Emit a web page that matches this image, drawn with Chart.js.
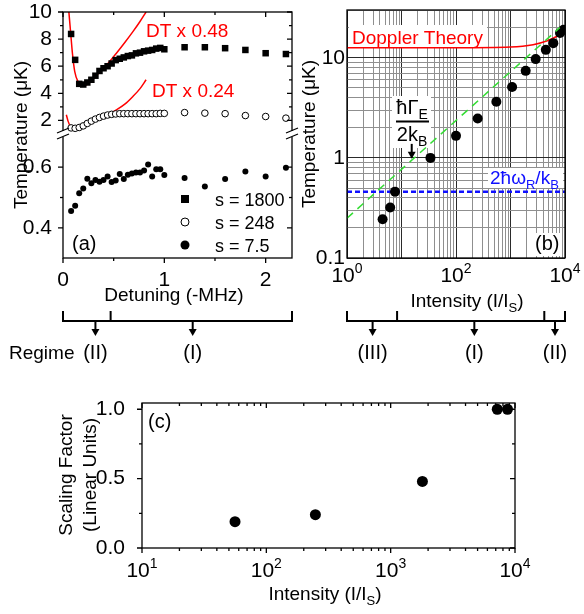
<!DOCTYPE html>
<html>
<head>
<meta charset="utf-8">
<script src="https://cdn.jsdelivr.net/npm/chart.js"></script>
<style>
  html, body { margin: 0; padding: 0; background: #fff; }
  #wrap { position: relative; width: 584px; height: 614px; overflow: hidden; }
  canvas { position: absolute; }
</style>
</head>
<body>
<div id="wrap">
  <canvas id="chartA" width="300" height="380" style="left:0;top:0"></canvas>
  <canvas id="chartB" width="300" height="380" style="left:284px;top:0"></canvas>
  <canvas id="chartC" width="584" height="234" style="left:0;top:380px"></canvas>
</div>
<script>
// ---- (a) temperature vs detuning ----
var detuning = [0.08, 0.12, 0.16, 0.20, 0.24, 0.28, 0.32, 0.36, 0.40, 0.44, 0.48, 0.52,
                0.56, 0.60, 0.64, 0.68, 0.72, 0.76, 0.80, 0.84, 0.88, 0.92, 0.96, 1.00,
                1.2, 1.4, 1.6, 1.8, 2.0, 2.2];
var temp1800 = [8.38, 6.47, 4.7, 4.65, 4.8, 5.0, 5.3, 5.65, 5.85, 6.0, 6.2, 6.45,
                6.55, 6.65, 6.75, 6.8, 6.95, 7.0, 7.1, 7.15, 7.2, 7.3, 7.35, 7.25,
                7.4, 7.4, 7.33, 7.2, 6.96, 6.9];
var temp248 = [1.45, 1.42, 1.48, 1.6, 1.78, 1.95, 2.1, 2.22, 2.32, 2.4, 2.45, 2.48,
               2.5, 2.5, 2.5, 2.5, 2.5, 2.5, 2.5, 2.5, 2.5, 2.5, 2.52, 2.52,
               2.58, 2.54, 2.5, 2.36, 2.29, 2.17];
var temp7p5 = [0.456, 0.473, 0.514, 0.53, 0.562, 0.547, 0.558, 0.552, 0.558, 0.569, 0.551, 0.556,
               0.577, 0.561, 0.575, 0.579, 0.582, 0.582, 0.589, 0.609, 0.569, 0.593, 0.593, 0.574,
               0.564, 0.536, 0.561, 0.586, 0.569, 0.598];
var dt048X = [0.058, 0.076, 0.093, 0.116, 0.148, 0.198, 0.25, 0.3, 0.363, 0.45, 0.527, 0.61, 0.69, 0.76, 0.82];
var dt048Y = [10, 8.43, 6.96, 5.6, 4.87, 4.55, 4.7, 5.05, 5.6, 6.25, 6.96, 7.75, 8.55, 9.3, 10];
var dt024X = [0.033, 0.05, 0.07, 0.09, 0.12, 0.16, 0.22, 0.33, 0.45, 0.527, 0.61, 0.69, 0.76, 0.82];
var dt024Y = [2.42, 1.95, 1.6, 1.42, 1.36, 1.4, 1.6, 2.0, 2.45, 2.78, 3.2, 3.77, 4.35, 5.0];
var detuneTicks = [0, 1, 2];
var detuneMinor = [0.5, 1.5];
var tempTicksHi = [2, 4, 6, 8, 10];
var tempMinorHi = [3, 5, 7, 9];
var tempTicksLo = [0.4, 0.6];
var tempMinorLo = [0.5];
var regimeEdgesA = [0.47];
var regimeArrowsA = [0.32, 1.28];
var regimeNamesA = ['(II)', '(I)'];

// ---- (b) temperature vs intensity ----
var intensityB = [4.5, 6.2, 7.6, 34, 100, 250, 550, 1070, 1900, 2900, 4450, 6100, 8100, 9400];
var tempB = [0.244, 0.32, 0.46, 1.0, 1.66, 2.47, 3.63, 5.1, 7.4, 9.7, 12, 14, 17.7, 19];
var dopplerX = [1, 10, 100, 1000, 2600, 4600, 7000, 10000];
var dopplerY = [12.6, 12.6, 12.6, 12.8, 13.5, 14.7, 16.3, 18.5];
var fitX = [1, 8000];
var fitY = [0.25, 20];
var recoilX = [1, 10000];
var recoilY = [0.46, 0.46];
var tempLabelsB = [0.1, 1, 10];
var decadesB = [1, 100, 10000];
var regimeEdgesB = [8.3, 4170];
var regimeArrowsB = [2.95, 217, 6560];
var regimeNamesB = ['(III)', '(I)', '(II)'];

// ---- (c) scaling factor ----
var intensityC = [56, 248, 1800, 7200, 8700];
var factorC = [0.19, 0.24, 0.48, 1.0, 1.0];
var factorTicks = [0, 0.5, 1.0];
var factorMinor = [0.25, 0.75];
var decadesC = [10, 100, 1000, 10000];

var FONT = "'Liberation Sans', Arial, Helvetica, sans-serif";

function pts(xs, ys) {
  return xs.map(function (x, i) { return { x: x, y: ys[i] }; });
}
function logTicks(e0, e1, max) {
  var out = [];
  for (var e = e0; e <= e1; e++) {
    for (var m = 1; m <= 9; m++) {
      var v = +(m * Math.pow(10, e)).toPrecision(3);
      if (v <= max) out.push(v);
    }
  }
  return out;
}
function isDecade(v) {
  var l = Math.log10(v);
  return Math.abs(l - Math.round(l)) < 1e-6;
}
function setTicks(vals) {
  return function (s) { s.ticks = vals.map(function (v) { return { value: v }; }); };
}
function fixed(size, horizontal) {
  return function (s) {
    if (horizontal) s.height = size; else s.width = size;
    s.paddingTop = s.paddingBottom = s.paddingLeft = s.paddingRight = 0;
  };
}

// text with sub/superscripts: parts = [[text, 0 normal | 1 sub | 2 sup], ...]
function rich(ctx, parts, x, y, size, align, color) {
  ctx.save();
  ctx.fillStyle = color || '#000';
  ctx.textAlign = 'left';
  ctx.textBaseline = 'alphabetic';
  var w = 0;
  function fs(p) { return p[1] ? Math.round(size * 0.68) : size; }
  parts.forEach(function (p) { ctx.font = fs(p) + 'px ' + FONT; w += ctx.measureText(p[0]).width; });
  var cx = align === 'center' ? x - w / 2 : (align === 'right' ? x - w : x);
  parts.forEach(function (p) {
    ctx.font = fs(p) + 'px ' + FONT;
    var dy = p[1] === 1 ? size * 0.26 : (p[1] === 2 ? -size * 0.42 : 0);
    ctx.fillText(p[0], cx, y + dy);
    cx += ctx.measureText(p[0]).width;
  });
  ctx.restore();
  return w;
}
function vtext(ctx, str, x, y, size) {
  ctx.save();
  ctx.translate(x, y);
  ctx.rotate(-Math.PI / 2);
  ctx.font = size + 'px ' + FONT;
  ctx.fillStyle = '#000';
  ctx.textAlign = 'center';
  ctx.textBaseline = 'middle';
  ctx.fillText(str, 0, 0);
  ctx.restore();
}
function tickMarks(ctx, scale, vals, len, side, a) {
  ctx.beginPath();
  vals.forEach(function (v) {
    var p = scale.getPixelForValue(v);
    if (side === 'bottom') { ctx.moveTo(p, a.bottom); ctx.lineTo(p, a.bottom + len); }
    if (side === 'top') { ctx.moveTo(p, a.top); ctx.lineTo(p, a.top + len); }
    if (side === 'left') { ctx.moveTo(a.left, p); ctx.lineTo(a.left - len, p); }
    if (side === 'right') { ctx.moveTo(a.right, p); ctx.lineTo(a.right - len, p); }
  });
  ctx.stroke();
}
function regime(ctx, scale, edges, arrows, names) {
  var y = 321;
  var x0 = scale.getPixelForValue(scale.min), x1 = scale.getPixelForValue(scale.max);
  ctx.save();
  ctx.strokeStyle = '#000';
  ctx.fillStyle = '#000';
  ctx.lineWidth = 2;
  ctx.beginPath();
  ctx.moveTo(x0, y - 10); ctx.lineTo(x0, y); ctx.lineTo(x1, y); ctx.lineTo(x1, y - 10);
  edges.forEach(function (v) {
    var p = scale.getPixelForValue(v);
    ctx.moveTo(p, y); ctx.lineTo(p, y - 10);
  });
  ctx.stroke();
  arrows.forEach(function (v, i) {
    var p = scale.getPixelForValue(v);
    ctx.beginPath(); ctx.moveTo(p, y); ctx.lineTo(p, y + 9); ctx.stroke();
    ctx.beginPath(); ctx.moveTo(p - 4, y + 8); ctx.lineTo(p + 4, y + 8); ctx.lineTo(p, y + 15); ctx.closePath(); ctx.fill();
    rich(ctx, [[names[i], 0]], p, 359, 20, 'center');
  });
  ctx.restore();
}
function whiteBox(ctx, x, y, w, h) {
  ctx.save(); ctx.fillStyle = '#fff'; ctx.fillRect(x, y, w, h); ctx.restore();
}

var common = {
  responsive: false,
  animation: false,
  events: [],
  plugins: { legend: { display: false }, tooltip: { enabled: false } }
};
var tickFont = { family: FONT, size: 21 };

// panel (a) decorations
var panelA = {
  id: 'panelA',
  afterDraw: function (chart) {
    var ctx = chart.ctx, a = chart.chartArea, s = chart.scales;
    ctx.save();
    ctx.strokeStyle = '#000';
    ctx.lineWidth = 1.3;
    ctx.strokeRect(a.left, a.top, a.right - a.left, a.bottom - a.top);
    tickMarks(ctx, s.x, detuneTicks, 5, 'bottom', a);
    tickMarks(ctx, s.x, detuneMinor, 3, 'bottom', a);
    tickMarks(ctx, s.x, detuneTicks, 5, 'top', a);
    tickMarks(ctx, s.x, detuneMinor, 3, 'top', a);
    ['left', 'right'].forEach(function (side) {
      tickMarks(ctx, s.yHi, tempTicksHi, 5, side, a);
      tickMarks(ctx, s.yHi, tempMinorHi, 3, side, a);
      tickMarks(ctx, s.yLo, tempTicksLo, 5, side, a);
      tickMarks(ctx, s.yLo, tempMinorLo, 3, side, a);
    });
    // axis break
    var yb = s.yHi.bottom;
    [a.left, a.right].forEach(function (x) {
      ctx.fillStyle = '#fff';
      ctx.fillRect(x - 2, yb - 3, 4, 6);
      ctx.beginPath();
      ctx.moveTo(x - 6, yb - 1); ctx.lineTo(x + 6, yb - 6);
      ctx.moveTo(x - 6, yb + 5); ctx.lineTo(x + 6, yb);
      ctx.stroke();
    });
    ctx.restore();

    vtext(ctx, 'Temperature (\u03BCK)', 22, 135, 19);
    rich(ctx, [['Detuning (-MHz)', 0]], 174, 301, 19, 'center');
    rich(ctx, [['DT x 0.48', 0]], 146, 37, 19, 'left', '#ff0000');
    rich(ctx, [['DT x 0.24', 0]], 152, 97, 19, 'left', '#ff0000');
    rich(ctx, [['(a)', 0]], 72, 250, 20, 'left');

    // legend
    var lx = 185, rows = [199, 222, 245], labels = ['s = 1800', 's = 248', 's = 7.5'];
    ctx.save();
    ctx.fillStyle = '#000';
    ctx.fillRect(lx - 4, rows[0] - 4, 8, 8);
    ctx.beginPath(); ctx.arc(lx, rows[1], 4, 0, 2 * Math.PI);
    ctx.fillStyle = '#fff'; ctx.fill(); ctx.lineWidth = 1; ctx.strokeStyle = '#000'; ctx.stroke();
    ctx.beginPath(); ctx.arc(lx, rows[2], 4.5, 0, 2 * Math.PI);
    ctx.fillStyle = '#000'; ctx.fill();
    ctx.restore();
    labels.forEach(function (t, i) { rich(ctx, [[t, 0]], 215, rows[i] + 6.5, 18, 'left'); });

    regime(ctx, s.x, regimeEdgesA, regimeArrowsA, regimeNamesA);
    rich(ctx, [['Regime', 0]], 9, 359, 19, 'left');
  }
};

new Chart(document.getElementById('chartA'), {
  type: 'scatter',
  data: {
    datasets: [
      { data: pts(detuning, temp1800), yAxisID: 'yHi', pointStyle: 'rect', pointRadius: 4.6,
        backgroundColor: '#000', borderWidth: 0 },
      { data: pts(detuning, temp248), yAxisID: 'yHi', pointStyle: 'circle', pointRadius: 3.3,
        backgroundColor: '#fff', borderColor: '#000', borderWidth: 1 },
      { data: pts(detuning, temp7p5), yAxisID: 'yLo', pointStyle: 'circle', pointRadius: 3,
        backgroundColor: '#000', borderWidth: 0 },
      { data: pts(dt048X, dt048Y), yAxisID: 'yHi', showLine: true, pointRadius: 0,
        borderColor: '#ff0000', borderWidth: 1.5, cubicInterpolationMode: 'monotone' },
      { data: pts(dt024X, dt024Y), yAxisID: 'yHi', showLine: true, pointRadius: 0,
        borderColor: '#ff0000', borderWidth: 1.5, cubicInterpolationMode: 'monotone' }
    ]
  },
  options: Object.assign({}, common, {
    layout: { padding: { left: 0, top: 12, right: 8, bottom: 0 } },
    scales: {
      x: {
        type: 'linear', position: 'bottom', min: 0, max: 2.26,
        afterBuildTicks: setTicks(detuneTicks), afterFit: fixed(122, true),
        grid: { display: false }, border: { display: false },
        ticks: { font: tickFont, color: '#000', padding: 2, maxRotation: 0, autoSkip: false,
                 callback: function (v) { return String(v); } }
      },
      yLo: {
        type: 'linear', position: 'left', stack: 'temp', stackWeight: 124, min: 0.301, max: 0.709,
        afterBuildTicks: setTicks(tempTicksLo), afterFit: fixed(63),
        grid: { display: false }, border: { display: false },
        ticks: { font: tickFont, color: '#000', padding: 3, autoSkip: false,
                 callback: function (v) { return String(v); } }
      },
      yHi: {
        type: 'linear', position: 'left', stack: 'temp', stackWeight: 122, min: 1, max: 10,
        afterBuildTicks: setTicks(tempTicksHi), afterFit: fixed(63),
        grid: { display: false }, border: { display: false },
        ticks: { font: tickFont, color: '#000', padding: 3, autoSkip: false,
                 callback: function (v) { return String(v); } }
      }
    }
  }),
  plugins: [panelA]
});

// panel (b) decorations
var panelB = {
  id: 'panelB',
  beforeDatasetsDraw: function (chart) {
    var ctx = chart.ctx, s = chart.scales, off = 284;
    whiteBox(ctx, 349 - off, 25, 138, 22);
    rich(ctx, [['Doppler Theory', 0]], 352 - off, 44, 19, 'left', '#ff0000');

    whiteBox(ctx, 392 - off, 96, 39, 52);
    rich(ctx, [['\u0127\u0393', 0], ['E', 1]], 412 - off, 114, 20, 'center');
    ctx.save();
    ctx.fillStyle = '#000';
    ctx.fillRect(396 - off, 120.5, 33, 2);
    ctx.restore();
    rich(ctx, [['2k', 0], ['B', 1]], 412 - off, 141, 20, 'center');
    // arrow
    var ax = s.x.getPixelForValue(15.4), ay0 = s.y.getPixelForValue(1.38), ay1 = s.y.getPixelForValue(0.98);
    ctx.save();
    ctx.strokeStyle = '#000'; ctx.fillStyle = '#000'; ctx.lineWidth = 2;
    ctx.beginPath(); ctx.moveTo(ax, ay0); ctx.lineTo(ax, ay1 - 6); ctx.stroke();
    ctx.beginPath(); ctx.moveTo(ax - 4, ay1 - 7); ctx.lineTo(ax + 4, ay1 - 7); ctx.lineTo(ax, ay1); ctx.closePath(); ctx.fill();
    ctx.restore();

    whiteBox(ctx, 488 - off, 168, 75, 20);
    rich(ctx, [['2\u0127\u03C9', 0], ['R', 1], ['/k', 0], ['B', 1]], 490 - off, 184, 19, 'left', '#1010ff');

    whiteBox(ctx, 530 - off, 233, 30, 23);
    rich(ctx, [['(b)', 0]], 535 - off, 250, 20, 'left');
  },
  afterDraw: function (chart) {
    var ctx = chart.ctx, a = chart.chartArea, s = chart.scales;
    ctx.save();
    ctx.strokeStyle = '#000';
    ctx.lineWidth = 1.3;
    ctx.strokeRect(a.left, a.top, a.right - a.left, a.bottom - a.top);
    ctx.restore();
    decadesB.forEach(function (v) {
      rich(ctx, [['10', 0], [String(Math.round(Math.log10(v))), 2]], s.x.getPixelForValue(v), 282, 21, 'center');
    });
    vtext(ctx, 'Temperature (\u03BCK)', 310 - 284, 134, 19);
    rich(ctx, [['Intensity (I/I', 0], ['S', 1], [')', 0]], 467 - 284, 307, 19, 'center');
    regime(ctx, s.x, regimeEdgesB, regimeArrowsB, regimeNamesB);
  }
};

var gridB = {
  drawTicks: false,
  lineWidth: 1,
  color: function (c) { return c.tick && isDecade(c.tick.value) ? '#2a2a2a' : '#8f8f8f'; }
};

new Chart(document.getElementById('chartB'), {
  type: 'scatter',
  data: {
    datasets: [
      { data: pts(fitX, fitY), showLine: true, pointRadius: 0, borderColor: '#33dd33',
        borderWidth: 1.5, borderDash: [8, 6] },
      { data: pts(intensityB, tempB), pointStyle: 'circle', pointRadius: 5,
        backgroundColor: '#000', borderWidth: 0 },
      { data: pts(dopplerX, dopplerY), showLine: true, pointRadius: 0, borderColor: '#ff0000',
        borderWidth: 1.5, cubicInterpolationMode: 'monotone' },
      { data: pts(recoilX, recoilY), showLine: true, pointRadius: 0, borderColor: '#1010ff',
        borderWidth: 2.5, borderDash: [5, 3] }
    ]
  },
  options: Object.assign({}, common, {
    layout: { padding: { left: 0, top: 10, right: 19, bottom: 0 } },
    scales: {
      x: {
        type: 'logarithmic', position: 'bottom', min: 1, max: 10000,
        afterBuildTicks: setTicks(logTicks(0, 4, 10000)), afterFit: fixed(122, true),
        grid: gridB, border: { display: false },
        ticks: { display: false, autoSkip: false }
      },
      y: {
        type: 'logarithmic', position: 'left', min: 0.1, max: 30,
        afterBuildTicks: setTicks(logTicks(-1, 1, 30)), afterFit: fixed(63),
        grid: gridB, border: { display: false },
        ticks: { font: tickFont, color: '#000', padding: 2, autoSkip: false,
                 callback: function (v) { return tempLabelsB.indexOf(v) >= 0 ? String(v) : ''; } }
      }
    }
  }),
  plugins: [panelB]
});

// panel (c) decorations
var panelC = {
  id: 'panelC',
  afterDraw: function (chart) {
    var ctx = chart.ctx, a = chart.chartArea, s = chart.scales;
    var minorX = logTicks(1, 3, 10000).filter(function (v) { return !isDecade(v); });
    ctx.save();
    ctx.strokeStyle = '#000';
    ctx.lineWidth = 1.3;
    ctx.strokeRect(a.left, a.top, a.right - a.left, a.bottom - a.top);
    tickMarks(ctx, s.x, decadesC, 5, 'bottom', a);
    tickMarks(ctx, s.x, minorX, 3, 'bottom', a);
    tickMarks(ctx, s.x, decadesC, 5, 'top', a);
    tickMarks(ctx, s.x, minorX, 3, 'top', a);
    ['left', 'right'].forEach(function (side) {
      tickMarks(ctx, s.y, factorTicks, 5, side, a);
      tickMarks(ctx, s.y, factorMinor, 3, side, a);
    });
    ctx.restore();
    decadesC.forEach(function (v) {
      rich(ctx, [['10', 0], [String(Math.round(Math.log10(v))), 2]], s.x.getPixelForValue(v), 196.5, 21, 'center');
    });
    vtext(ctx, 'Scaling Factor', 67, 95, 19);
    vtext(ctx, '(Linear Units)', 91, 95, 19);
    rich(ctx, [['Intensity (I/I', 0], ['S', 1], [')', 0]], 325, 220, 19, 'center');
    rich(ctx, [['(c)', 0]], 148, 48, 20, 'left');
  }
};

new Chart(document.getElementById('chartC'), {
  type: 'scatter',
  data: {
    datasets: [
      { data: pts(intensityC, factorC), pointStyle: 'circle', pointRadius: 5.5,
        backgroundColor: '#000', borderWidth: 0 }
    ]
  },
  options: Object.assign({}, common, {
    layout: { padding: { left: 0, top: 23, right: 69, bottom: 0 } },
    scales: {
      x: {
        type: 'logarithmic', position: 'bottom', min: 10, max: 10000,
        afterBuildTicks: setTicks(decadesC), afterFit: fixed(66, true),
        grid: { display: false }, border: { display: false },
        ticks: { display: false }
      },
      y: {
        type: 'linear', position: 'left', min: 0, max: 1.045,
        afterBuildTicks: setTicks(factorTicks), afterFit: fixed(142),
        grid: { display: false }, border: { display: false },
        ticks: { font: tickFont, color: '#000', padding: 9, autoSkip: false,
                 callback: function (v) { return v.toFixed(1); } }
      }
    }
  }),
  plugins: [panelC]
});
</script>
</body>
</html>
